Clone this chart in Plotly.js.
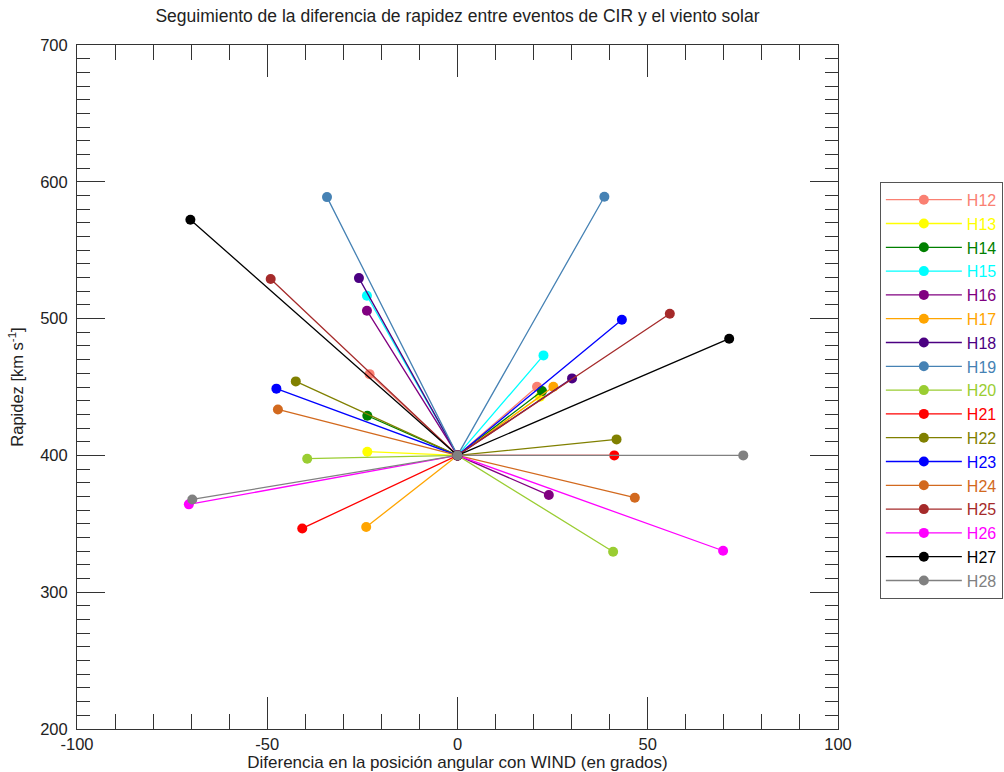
<!DOCTYPE html>
<html>
<head>
<meta charset="utf-8">
<script src="https://cdn.plot.ly/plotly-3.0.1.min.js"></script>
<style>html,body{margin:0;padding:0;background:#fff;}#chart{width:1004px;height:772px;}</style>
</head>
<body>
<div id="chart"></div>
<script>
// Event names
const names = ["H12","H13","H14","H15","H16","H17","H18","H19","H20","H21","H22","H23","H24","H25","H26","H27","H28"];
const colors = ["#FA8072","#FFFF00","#008000","#00FFFF","#800080","#FFA500","#4B0082","#4682B4","#9ACD32","#FF0000","#808000","#0000FF","#D2691E","#A52A2A","#FF00FF","#000000","#808080"];
// Reference point (WIND)
const originX = 0;
const originY = 400;
// Left-side event (angle difference, speed)
const leftX = [-23.1,-23.7,-23.7,-23.8,-23.8,-24.0,-25.9,-34.3,-39.5,-40.8,-42.5,-47.6,-47.2,-49.1,-70.6,-70.2,-69.7];
const leftY = [459.4,402.7,429.0,516.7,505.8,347.6,529.6,588.8,397.6,346.6,454.1,448.8,433.6,528.9,364.2,572.3,367.8];
// Right-side event
const rightX = [20.9,21.7,22.2,22.6,24.0,25.2,30.1,38.6,40.9,41.2,41.8,43.2,46.6,55.8,69.8,71.4,75.1];
const rightY = [450.2,442.9,447.0,473.1,371.0,450.2,456.3,589.1,329.6,400.0,411.7,499.2,369.1,503.6,330.3,485.3,400.0];
// Tick labels
const xTickVals = [-100,-50,0,50,100];
const xTickText = ["-100","-50","0","50","100"];
const yTickVals = [200,300,400,500,600,700];
const yTickText = ["200","300","400","500","600","700"];

const traces = names.map((n, i) => ({
  type: 'scatter',
  mode: 'lines+markers',
  x: [leftX[i], originX, rightX[i]],
  y: [leftY[i], originY, rightY[i]],
  name: '<span style="color:' + colors[i] + '">' + n + '</span>',
  line: {color: colors[i], width: 1.3},
  marker: {color: colors[i], size: 10},
  hoverinfo: 'x+y'
}));

const axisCommon = {
  showgrid: false, zeroline: false, showline: true, linecolor: '#333', linewidth: 1,
  mirror: 'ticks', ticks: 'inside', tickcolor: '#333', tickwidth: 1,
  tickfont: {family: 'Liberation Sans, Arial, sans-serif', size: 16.5, color: '#222'}
};

const layout = {
  width: 1004, height: 772,
  margin: {l: 77, r: 166, t: 45, b: 43, autoexpand: false},
  paper_bgcolor: '#fff', plot_bgcolor: '#fff',
  font: {family: 'Liberation Sans, Arial, sans-serif', color: '#222'},
  title: {text: 'Seguimiento de la diferencia de rapidez entre eventos de CIR y el viento solar',
          font: {size: 17.5, color: '#222'}, x: 0.5, xref: 'paper', xanchor: 'center', y: 0.988, yanchor: 'top'},
  xaxis: Object.assign({}, axisCommon, {
    range: [-100, 100], tickmode: 'array', tickvals: xTickVals, ticktext: xTickText, ticklen: 32,
    minor: {dtick: 10, tick0: 0, ticklen: 15, ticks: 'inside', tickcolor: '#333'},
    title: {text: 'Diferencia en la posición angular con WIND (en grados)', font: {size: 17}, standoff: 0}
  }),
  yaxis: Object.assign({}, axisCommon, {
    range: [200, 700], tickmode: 'array', tickvals: yTickVals, ticktext: yTickText, ticklen: 28,
    ticklabelstandoff: 5,
    minor: {dtick: 10, tick0: 0, ticklen: 13, ticks: 'inside', tickcolor: '#333'},
    title: {text: 'Rapidez [km s<sup>-1</sup>]', font: {size: 16.5}, standoff: 12}
  }),
  legend: {
    x: 1.055, y: 0.80, xanchor: 'left', yanchor: 'top',
    bordercolor: '#555', borderwidth: 1, bgcolor: '#fff',
    font: {size: 16}, itemwidth: 76
  },
  showlegend: true
};

Plotly.newPlot('chart', traces, layout, {displayModeBar: false, staticPlot: true});
</script>
</body>
</html>
